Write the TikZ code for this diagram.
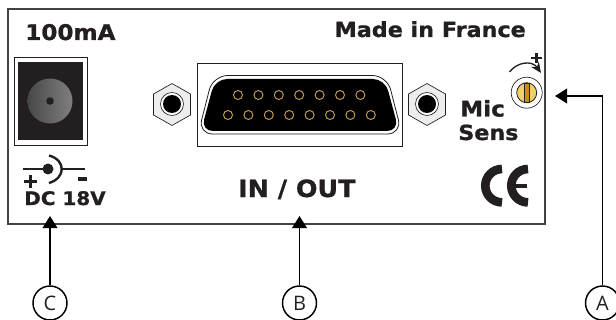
\documentclass[tikz,border=0pt]{standalone}
\usepackage{fontspec}
\usepackage{xcolor}
\usetikzlibrary{arrows.meta}
\newfontfamily\panelfont[FakeStretch=1.07,FakeBold=1]{DejaVu Sans Bold}
\newfontfamily\letterfont{Open Sans}
\definecolor{panelink}{HTML}{231F20}
\definecolor{pingold}{HTML}{C9A04E}
\definecolor{screwyellow}{HTML}{F5CE6B}
\definecolor{screwslot}{HTML}{C98A1E}
\definecolor{nutgrey}{HTML}{EDEDED}
\tikzset{
  paneltext/.style={anchor=base west, inner sep=0pt, text=panelink, font=\panelfont\fontsize{15.6}{17}\selectfont},
  largetext/.style={paneltext, font=\panelfont\fontsize{17.8}{19}\selectfont},
  ratingstyle/.style={paneltext, font=\panelfont\fontsize{16.2}{18}\selectfont},
  smalltext/.style={paneltext, font=\panelfont\fontsize{14}{16}\selectfont},
  letternode/.style={draw, circle, line width=1.1pt, minimum size=25.5pt, inner sep=0pt, font=\letterfont\fontsize{15}{15}\selectfont, text=panelink},
  arrowline/.style={draw, line width=1.1pt, -{Triangle[length=9pt,width=11pt]}},
}

\begin{document}
\begin{tikzpicture}[x=0.75pt,y=0.75pt,yscale=-1,xscale=1]
\useasboundingbox (0,0) rectangle (616,320);

\draw [panelink!85, line width=0.9pt] (8,9) rectangle (545,224);

\draw [panelink, line width=0.5pt, fill=white] (14,57) rectangle (87,145);
\fill [panelink] (18,62) rectangle (83,140);
\shade [left color=black!72, right color=black!50] (50,101) circle (22.5);
\fill [panelink] (50,101) circle (3.8);

\foreach \nx in {172,427} {
  \draw [panelink, line width=0.5pt, fill=nutgrey] ({\nx},83.5) -- ({\nx+18.5},94) -- ({\nx+18.5},115) -- ({\nx},125.5) -- ({\nx-18.5},115) -- ({\nx-18.5},94) -- cycle;
  \draw [panelink, line width=0.5pt, fill=white] ({\nx},104) circle (11.5);
  \fill [black] ({\nx},104) circle (9);
}

\draw [panelink, line width=0.7pt, fill=white] (197,63) rectangle (402,146);
\draw [panelink, line width=0.6pt, rounded corners=11] (213,75.5) -- (387,75.5) -- (402,134) -- (198,134) -- cycle;
\fill [black, rounded corners=9] (215,79) -- (385,79) -- (399,131) -- (201,131) -- cycle;
\foreach \i in {0,...,6} {
  \draw [pingold, line width=0.7pt] ({238+20.4*\i},95) circle (4.5);
}
\foreach \i in {0,...,7} {
  \draw [pingold, line width=0.7pt] ({228+20.4*\i},115) circle (4.5);
}

\draw [panelink, line width=0.5pt, fill=white] (526.7,92.7) circle (15.5);
\draw [panelink, line width=0.6pt, fill=screwyellow] (526.7,92.7) circle (10);
\draw [panelink, line width=0.5pt, fill=screwslot] (524.3,83) rectangle (529.1,102.4);
\draw [panelink, line width=1pt, -{Stealth[length=8pt,width=7pt]}] (509.5,72) .. controls (517,62) and (532,60) .. (541,73);
\draw [panelink, line width=2pt] (531,58) -- (542,58);
\draw [panelink, line width=2pt] (536.5,53) -- (536.5,63.5);

\draw [panelink, line width=1.1pt] (23,169) -- (48,169);
\fill [panelink] (48,169) circle (5.5);
\draw [panelink, line width=1.8pt] (49,155.5) .. controls (66,160) and (66,178) .. (49,183);
\draw [panelink, line width=1.1pt] (63,169) -- (85,169);
\draw [panelink, line width=2.6pt] (24,181.5) -- (37,181.5);
\draw [panelink, line width=2.6pt] (30.5,175) -- (30.5,188);
\draw [panelink, line width=3.4pt] (78,179) -- (87,179);

\draw [panelink, line width=6.5pt] (502,169) arc (270:90:16.7);
\draw [panelink, line width=6.5pt] (528,169) arc (270:90:16.7);
\draw [panelink, line width=3pt] (511,185.7) -- (527,185.7);

\node [ratingstyle] (ratingtext) at (25,40) {100mA};
\node [paneltext, anchor=base east] (origintext) at (526,37) {Made in France};
\node [largetext] (iotext) at (238,197) {IN / OUT};
\node [ratingstyle] (mictext) at (460,116.5) {Mic};
\node [paneltext] (senstext) at (458,140) {Sens};
\node [smalltext] (dctext) at (24,205) {DC 18V};

\node [letternode] (circC) at (50,303) {C};
\node [letternode] (circB) at (299.5,303) {B};
\node [letternode] (circA) at (602.5,303) {A};

\coordinate (tipC) at (50,216);
\coordinate (tipB) at (299.5,216);
\coordinate (tipA) at (555,96);
\coordinate (bendA) at (602.5,96);

\draw [arrowline] (circC) -- (tipC);
\draw [arrowline] (circB) -- (tipB);
\draw [arrowline] (circA) -- (bendA) -- (tipA);

\end{tikzpicture}
\end{document}
